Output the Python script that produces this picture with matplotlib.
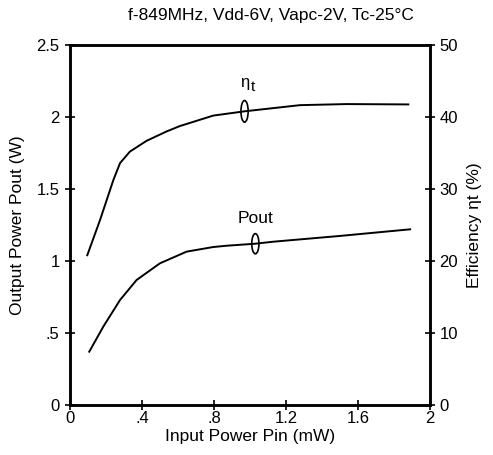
import numpy as np
import matplotlib
matplotlib.use('Agg')
import matplotlib.pyplot as plt
from matplotlib.patches import Ellipse

plt.rcParams['font.family'] = ['Liberation Sans', 'DejaVu Sans']

# Efficiency curve (right axis, %)
eta_pin = [0.096, 0.167, 0.241, 0.278, 0.333, 0.426, 0.537, 0.611, 0.796, 0.972, 1.278, 1.537, 1.88]
eta_val = [20.8, 25.7, 31.25, 33.6, 35.2, 36.7, 38.0, 38.75, 40.2, 40.8, 41.65, 41.8, 41.75]

# Output power curve (left axis, W)
pout_pin = [0.107, 0.185, 0.278, 0.37, 0.50, 0.648, 0.796, 0.87, 1.03, 1.13, 1.50, 1.89]
pout_val = [0.37, 0.544, 0.729, 0.868, 0.984, 1.065, 1.097, 1.106, 1.12, 1.134, 1.174, 1.22]

xticks = [0, 0.4, 0.8, 1.2, 1.6, 2]
xticklabels = ['0', '.4', '.8', '1.2', '1.6', '2']
yticks = [0, 0.5, 1, 1.5, 2, 2.5]
yticklabels = ['0', '.5', '1', '1.5', '2', '2.5']
y2ticks = [0, 10, 20, 30, 40, 50]

fig = plt.figure(figsize=(4.93, 4.55), dpi=100)
ax = fig.add_axes([0.142, 0.110, 0.730, 0.791])
ax2 = ax.twinx()

ax.plot(pout_pin, pout_val, color='black', lw=1.4)
ax2.plot(eta_pin, eta_val, color='black', lw=1.4)

ax.set_xlim(0, 2)
ax.set_ylim(0, 2.5)
ax2.set_ylim(0, 50)

ax.set_xticks(xticks)
ax.set_xticklabels(xticklabels)
ax.set_yticks(yticks)
ax.set_yticklabels(yticklabels)
ax2.set_yticks(y2ticks)

for a in (ax, ax2):
    for s in a.spines.values():
        s.set_linewidth(1.8)
    a.tick_params(direction='inout', length=7, width=1.2, labelsize=12)
ax.tick_params(axis='x', pad=1)
ax.tick_params(axis='y', pad=4)

ax.set_xlabel('Input Power Pin (mW)', fontsize=12.5, labelpad=2)
ax.set_ylabel('Output Power Pout (W)', fontsize=12.5, labelpad=8)
ax2.set_ylabel('Efficiency \u03b7t (%)', fontsize=12.5, rotation=90, labelpad=6)
fig.text(0.55, 0.965, 'f-849MHz, Vdd-6V, Vapc-2V, Tc-25\u00b0C', fontsize=12.5,
         ha='center', va='center')

# ellipse markers identifying the curves
ex = 0.97
ey = np.interp(ex, eta_pin, eta_val)
ax2.add_patch(Ellipse((ex, ey), 0.04, 3.0, fill=False, lw=1.2, color='black'))
ax2.text(ex, ey + 3.0, '\u03b7', fontsize=12, ha='center', va='bottom')
ax2.text(ex + 0.035, ey + 2.4, 't', fontsize=11, ha='left', va='bottom')

px = 1.03
py = np.interp(px, pout_pin, pout_val)
ax.add_patch(Ellipse((px, py), 0.04, 0.14, fill=False, lw=1.2, color='black'))
ax.text(px, py + 0.12, 'Pout', fontsize=12.5, ha='center', va='bottom')

fig.savefig('out.png', dpi=100)
